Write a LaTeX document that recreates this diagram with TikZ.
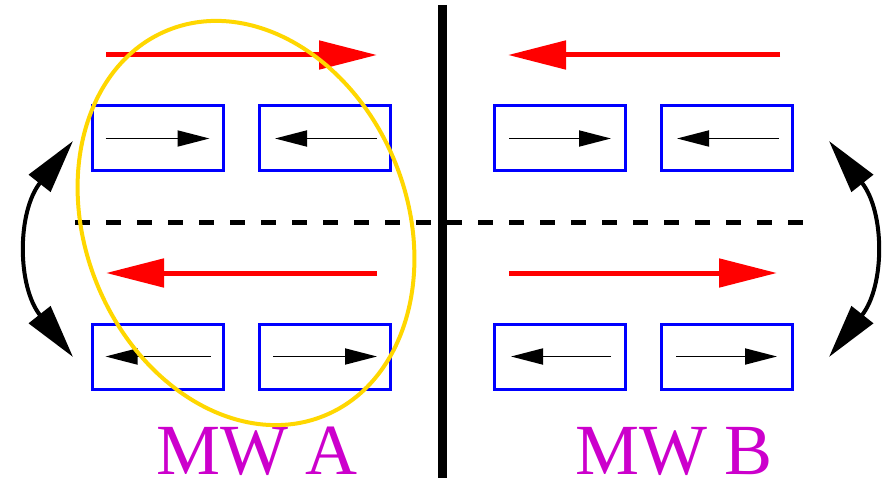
\documentclass[tikz,border=0pt]{standalone}
\usepackage{fontspec}
\setmainfont{Liberation Serif}
\usetikzlibrary{arrows.meta}
\definecolor{mwmag}{RGB}{204,0,204}
\definecolor{ellyellow}{RGB}{255,215,0}
\tikzset{
  magbox/.style={draw=blue, line width=3pt, minimum width=131pt, minimum height=65pt, inner sep=0pt},
  smallarrow/.style={line width=1.8pt, -{Triangle[length=32pt,width=16pt]}},
  redarrow/.style={draw=red, line width=5pt, -{Triangle[length=58pt,width=28pt]}, color=red},
  swaparrow/.style={line width=4pt, {Triangle[length=54pt,width=27pt]}-{Triangle[length=54pt,width=27pt]}},
  mwlabel/.style={text=mwmag, font=\fontsize{72}{80}\selectfont, anchor=base, inner sep=0pt},
}
\begin{document}
\begin{tikzpicture}[x=1pt,y=-1pt]
\useasboundingbox (0,0) rectangle (890,478);
% boxes
\node[magbox] (b1) at (157.5,138.5) {};
\node[magbox] (b2) at (325,138.5) {};
\node[magbox] (b3) at (560,138.5) {};
\node[magbox] (b4) at (727,138.5) {};
\node[magbox] (b5) at (157.5,356.5) {};
\node[magbox] (b6) at (325,356.5) {};
\node[magbox] (b7) at (560,356.5) {};
\node[magbox] (b8) at (727,356.5) {};
% small arrows inside boxes
\draw[smallarrow] ([xshift=15pt]b1.west) -- ([xshift=-15pt]b1.east);
\draw[smallarrow] ([xshift=-15pt]b2.east) -- ([xshift=17pt]b2.west);
\draw[smallarrow] ([xshift=16pt]b3.west) -- ([xshift=-16pt]b3.east);
\draw[smallarrow] ([xshift=-15pt]b4.east) -- ([xshift=17pt]b4.west);
\draw[smallarrow] ([xshift=-14pt]b5.east) -- ([xshift=15pt]b5.west);
\draw[smallarrow] ([xshift=15pt]b6.west) -- ([xshift=-15pt]b6.east);
\draw[smallarrow] ([xshift=-16pt]b7.east) -- ([xshift=18pt]b7.west);
\draw[smallarrow] ([xshift=16pt]b8.west) -- ([xshift=-17pt]b8.east);
% red arrows
\coordinate (r1a) at (106,55); \coordinate (r1b) at (377,55);
\coordinate (r2a) at (780,55); \coordinate (r2b) at (508,55);
\coordinate (r3a) at (377,273); \coordinate (r3b) at (106,273);
\coordinate (r4a) at (509,273); \coordinate (r4b) at (777,273);
\draw[redarrow] (r1a) -- (r1b);
\draw[redarrow] (r2a) -- (r2b);
\draw[redarrow] (r3a) -- (r3b);
\draw[redarrow] (r4a) -- (r4b);
% dashed line
\coordinate (dl) at (75,222); \coordinate (dr) at (809,222);
\draw[line width=5pt, dash pattern=on 15pt off 16pt] (dl) -- (dr);
% vertical wall
\coordinate (wt) at (442.5,5); \coordinate (wb) at (442.5,478);
\draw[line width=9pt] (wt) -- (wb);
% curved swap arrows
\coordinate (lt) at (73,141); \coordinate (lb) at (73,357);
\coordinate (rt) at (829,141); \coordinate (rb) at (829,357);
\draw[swaparrow] (lt) .. controls (17,212) and (17,286) .. (lb);
\draw[swaparrow] (rt) .. controls (885,212) and (885,286) .. (rb);
% labels
\node[mwlabel] (la) at (257,474) {MW A};
\node[mwlabel] (lb2) at (674,474) {MW B};
% ellipse
\draw[ellyellow, line width=4pt, rotate around={22:(246,223)}] (246,223) ellipse [x radius=161, y radius=208];
\end{tikzpicture}
\end{document}
